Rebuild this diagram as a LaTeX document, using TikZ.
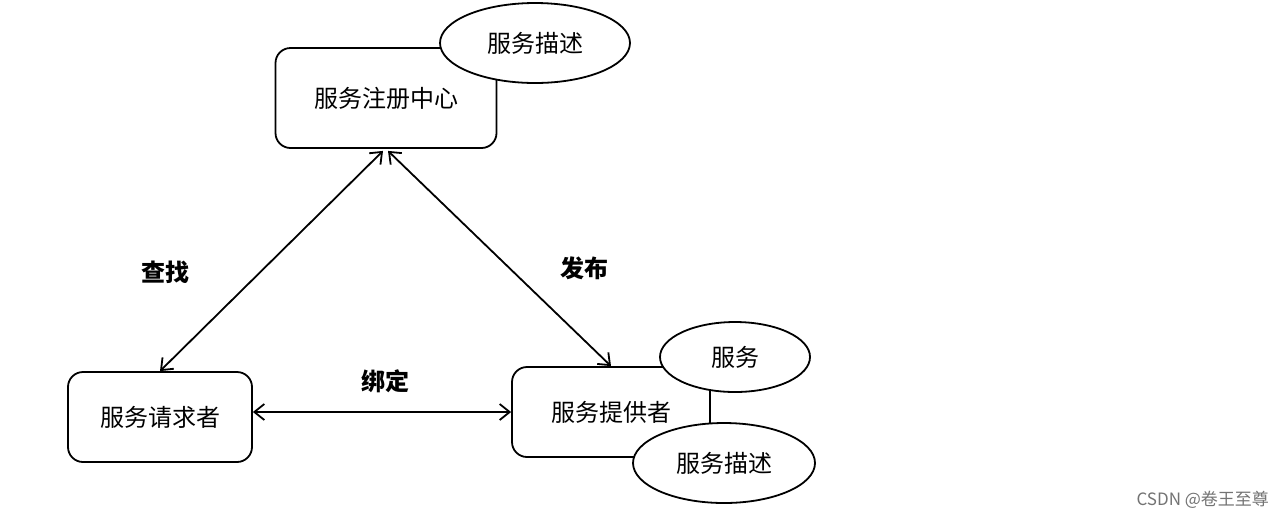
\documentclass[tikz,border=0pt]{standalone}
\usepackage{fontspec}
\newfontfamily\cjk{Noto Sans CJK SC}
\usetikzlibrary{arrows.meta,shapes.geometric}
\tikzset{
  box/.style={draw,rounded corners=7.5pt,line width=0.9pt,font=\cjk\fontsize{12}{14}\selectfont},
  oval/.style={draw,ellipse,fill=white,inner sep=0pt,line width=0.9pt,font=\cjk\fontsize{12}{14}\selectfont},
  lab/.style={font=\cjk\bfseries\fontsize{12}{14}\selectfont},
}
\begin{document}
\begin{tikzpicture}[x=0.5pt,y=-0.5pt,line join=round,line cap=round,>={Straight Barb[length=5pt,width=8pt]}]
		\useasboundingbox[fill=white] (0,0) rectangle (1288,521);
		\node[box,minimum width=110.5pt,minimum height=50pt] (reg) at (386,98) {服务注册中心};
		\node[box,minimum width=92pt,minimum height=45pt] (req) at (160,417) {服务请求者};
		\node[box,minimum width=99pt,minimum height=45pt] (prov) at (611,412) {服务提供者};
		\node[oval,minimum width=95pt,minimum height=40pt] (regdesc) at (535,43) {服务描述};
		\node[oval,minimum width=75pt,minimum height=35pt] (serv) at (735,357) {服务};
		\node[oval,minimum width=91pt,minimum height=40pt] (provdesc) at (724,463) {服务描述};
		\draw[<->,line width=0.9pt] ([xshift=-1.5pt,yshift=-1pt]reg.south) -- (req.north);
		\draw[<->,line width=0.9pt] ([xshift=1pt,yshift=-1pt]reg.south) -- (prov.north);
		\draw[<->,line width=0.9pt] (req.east |- prov.west) -- (prov.west);
		\node[lab] (find) at (165,272) {查找};
		\node[lab] (pub) at (584,268) {发布};
		\node[lab] (bind) at (385,381) {绑定};
		\node[anchor=east,text=black!55,font=\cjk\fontsize{8.5}{10}\selectfont] (mark) at (1276,500) {CSDN @卷王至尊};
	\end{tikzpicture}
\end{document}
